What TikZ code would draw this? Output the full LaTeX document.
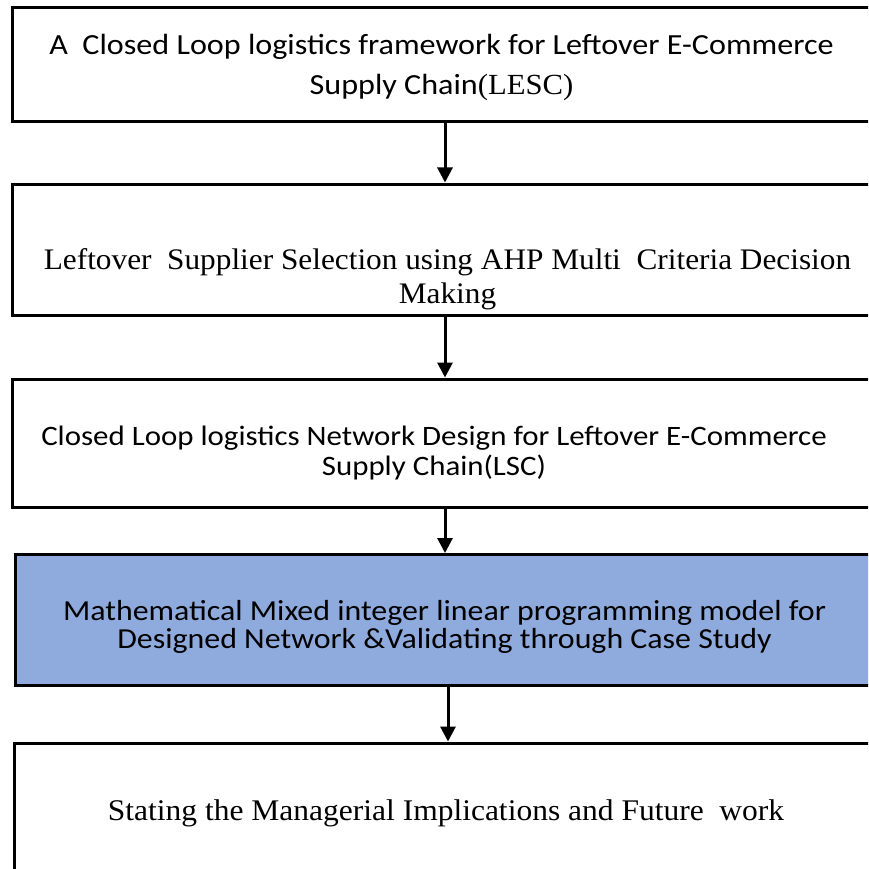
\documentclass[tikz,border=0pt]{standalone}
\usepackage{fontspec}
\setmainfont{Liberation Serif}
\newfontfamily\boxsans[FakeStretch=1.1]{Carlito}
\newfontfamily\boxserif[FakeStretch=1.05]{Liberation Serif}
\usepackage{tikz}
\usetikzlibrary{arrows.meta, positioning}
\definecolor{PaleBlue}{RGB}{143,170,220}
\lineskiplimit=-20pt

\begin{document}
\begin{tikzpicture}[x=1pt, y=-1pt,
		% basic box style
		stageBox/.style={
			rectangle,
			draw=black,
			line width=3pt,
			fill=white,
			inner sep=0pt
		},
		% texts inside the boxes (anchored on the last baseline)
		sansText/.style={
			align=center,
			anchor=base,
			font=\boxsans\fontsize{29}{#1}\selectfont
		},
		serifText/.style={
			align=center,
			anchor=base,
			font=\boxserif\fontsize{29.8}{#1}\selectfont
		},
		flowArrow/.style={
			line width=3pt,
			-{Triangle[length=15pt, width=15pt]}
		}
		]
		
		\useasboundingbox (0,0) rectangle (868,869);
		\clip (0,0) rectangle (868,869);
		
		% first box: framework
		\node[stageBox, minimum width=866pt, minimum height=114.5pt] (frame) at (445,64.75) {};
		\node[sansText=40, font=\boxsans\fontsize{29.2}{40}\selectfont] (frameText) at (441.5,95) {
			A\ \ Closed Loop logistics framework for Leftover E-Commerce \\ Supply Chain{\boxserif(LESC)}
		};
		
		% second box: supplier selection
		\node[stageBox, minimum width=866pt, minimum height=131pt] (ahp) at (445,249.5) {};
		\node[serifText=34] (ahpText) at (447.5,303) {
			Leftover\ \ Supplier Selection using AHP Multi\ \ Criteria Decision \\ Making
		};
		
		% third box: network design
		\node[stageBox, minimum width=866pt, minimum height=128pt] (network) at (445,443) {};
		\node[sansText=30, font=\boxsans\fontsize{28.1}{30}\selectfont] (networkText) at (434,475) {
			Closed Loop logistics Network Design for Leftover E-Commerce \\ Supply Chain(LSC)
		};
		
		% fourth box: MILP model
		\node[stageBox, fill=PaleBlue, minimum width=863pt, minimum height=131pt] (milp) at (446.5,620) {};
		\node[sansText=28] (milpText) at (444.5,648) {
			Mathematical Mixed integer linear programming model for \\ Designed Network \&Validating through Case Study
		};
		
		% fifth box: implications
		\node[stageBox, minimum width=864pt, minimum height=162pt] (future) at (446,824) {};
		\node[serifText=34, font=\boxserif\fontsize{30}{34}\selectfont] (futureText) at (450,820) {
			Stating the Managerial Implications and Future\ \ work
		};
		
		% arrows between the boxes
		\draw[flowArrow] (frame.south) -- (ahp.north);
		\draw[flowArrow] (ahp.south) -- (network.north);
		\draw[flowArrow] (network.south) -- (network.south |- milp.north);
		\draw[flowArrow] ([xshift=1.5pt]milp.south) -- ([xshift=1.5pt]milp.south |- future.north);
		
	\end{tikzpicture}
\end{document}
